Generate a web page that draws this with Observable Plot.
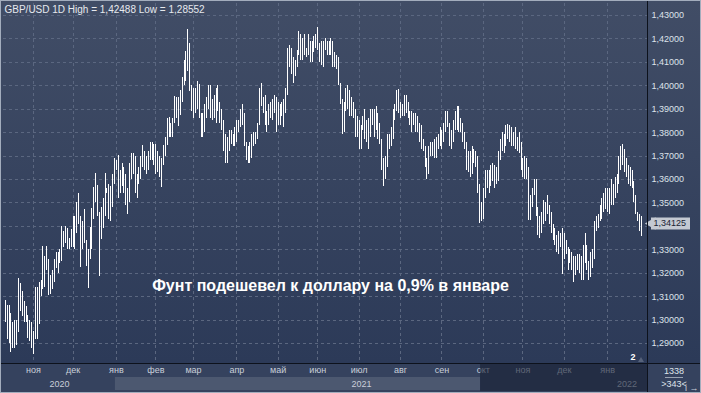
<!DOCTYPE html>
<html><head><meta charset="utf-8">
<script src="https://cdn.jsdelivr.net/npm/d3@7"></script>
<script src="https://cdn.jsdelivr.net/npm/@observablehq/plot@0.6"></script>
<style>html,body{margin:0;padding:0;background:#2e3b57;overflow:hidden} svg{display:block}</style>
</head><body><div id="chart"></div>
<script>
// Daily GBP/USD bars, 12 Oct 2020 .. 27 Jan 2022 (index = trading day)
const high = [
// Oct 2020
1.3083,1.3063,1.3063,1.3030,1.2990,1.3000,1.3000,1.3177,1.3155,1.3120,1.3080,1.3060,1.3020,1.3000,1.2990,
// Nov 2020
1.2950,1.3140,1.3140,1.3160,1.3170,1.3314,1.3270,1.3312,1.3260,1.3190,1.3210,1.3260,1.3290,1.3290,1.3300,1.3398,1.3380,1.3400,1.3390,1.3350,1.3385,
// Dec 2020
1.3440,1.3440,1.3500,1.3540,1.3440,1.3420,1.3470,1.3340,1.3300,1.3395,1.3475,1.3565,1.3625,1.3575,1.3460,1.3480,1.3520,1.3625,1.3560,1.3580,1.3570,1.3620,1.3690,
// Jan 2021
1.3680,1.3703,1.3640,1.3670,1.3650,1.3620,1.3560,1.3670,1.3710,1.3710,1.3700,1.3620,1.3650,1.3700,1.3745,1.3720,1.3700,1.3720,1.3760,1.3760,1.3750,
// Feb 2021
1.3750,1.3720,1.3700,1.3690,1.3745,1.3780,1.3860,1.3865,1.3840,1.3860,1.3953,1.3950,1.3950,1.3980,1.4035,1.4110,1.4145,1.4241,1.4180,1.4000,
// Mar 2021
1.3990,1.3990,1.4020,1.4005,1.3880,1.3880,1.3920,1.3950,1.4000,1.4000,1.3940,1.3960,1.3990,1.4000,1.3930,1.3900,1.3850,1.3790,1.3780,1.3810,1.3810,1.3790,1.3820,
// Apr 2021
1.3850,1.3850,1.3900,1.3920,1.3880,1.3760,1.3740,1.3760,1.3790,1.3800,1.3800,1.3840,1.3990,1.4009,1.3950,1.3960,1.3890,1.3920,1.3930,1.3940,1.3960,1.3950,
// May 2021
1.3930,1.3920,1.3930,1.3940,1.3990,1.4160,1.4170,1.4160,1.4120,1.4110,1.4150,1.4230,1.4220,1.4200,1.4220,1.4160,1.4220,1.4190,1.4190,1.4210,1.4220,
// Jun 2021
1.4249,1.4180,1.4190,1.4190,1.4200,1.4190,1.4190,1.4200,1.4190,1.4140,1.4130,1.4120,1.4010,1.3940,1.3930,1.3990,1.4000,1.3980,1.3950,1.3930,1.3900,1.3870,
// Jul 2021
1.3850,1.3830,1.3870,1.3900,1.3850,1.3860,1.3900,1.3900,1.3900,1.3910,1.3880,1.3840,1.3770,1.3690,1.3700,1.3790,1.3790,1.3820,1.3900,1.3920,1.3980,1.3983,
// Aug 2021
1.3930,1.3920,1.3960,1.3960,1.3930,1.3890,1.3890,1.3880,1.3880,1.3870,1.3840,1.3830,1.3770,1.3740,1.3690,1.3740,1.3760,1.3760,1.3770,1.3780,1.3790,1.3820,
// Sep 2021
1.3810,1.3840,1.3890,1.3890,1.3840,1.3810,1.3850,1.3890,1.3910,1.3910,1.3860,1.3840,1.3800,1.3760,1.3720,1.3720,1.3740,1.3730,1.3720,1.3700,1.3580,1.3500,
// Oct 2021
1.3560,1.3640,1.3640,1.3640,1.3660,1.3670,1.3660,1.3650,1.3720,1.3770,1.3800,1.3790,1.3830,1.3834,1.3830,1.3820,1.3800,1.3820,1.3780,1.3800,1.3760,
// Nov 2021
1.3690,1.3700,1.3690,1.3650,1.3530,1.3560,1.3600,1.3600,1.3480,1.3440,1.3460,1.3510,1.3500,1.3530,1.3490,1.3460,1.3410,1.3390,1.3360,1.3380,1.3370,1.3390,
// Dec 2021
1.3370,1.3340,1.3310,1.3300,1.3290,1.3270,1.3270,1.3280,1.3280,1.3270,1.3320,1.3370,1.3320,1.3250,1.3290,1.3300,1.3420,1.3440,1.3450,1.3490,1.3520,1.3540,1.3560,
// Jan 2022
1.3560,1.3560,1.3600,1.3580,1.3610,1.3620,1.3700,1.3740,1.3749,1.3730,1.3690,1.3660,1.3650,1.3640,1.3590,1.3530,1.3460,1.3450,1.3440
];
const low = [
// Oct 2020
1.2990,1.2918,1.2900,1.2863,1.2880,1.2880,1.2890,1.2946,1.3036,1.3015,1.2990,1.2990,1.2920,1.2910,1.2880,
// Nov 2020
1.2855,1.2915,1.2915,1.2980,1.3100,1.3130,1.3140,1.3210,1.3106,1.3110,1.3130,1.3160,1.3220,1.3200,1.3240,1.3250,1.3310,1.3325,1.3300,1.3300,1.3310,
// Dec 2020
1.3310,1.3300,1.3370,1.3410,1.3225,1.3300,1.3325,1.3230,1.3135,1.3260,1.3300,1.3430,1.3500,1.3440,1.3188,1.3345,1.3390,1.3440,1.3540,1.3430,1.3420,1.3480,1.3580,
// Jan 2021
1.3640,1.3518,1.3540,1.3570,1.3540,1.3490,1.3450,1.3500,1.3600,1.3620,1.3540,1.3520,1.3580,1.3600,1.3650,1.3640,1.3620,1.3640,1.3680,1.3680,1.3660,
// Feb 2021
1.3620,1.3630,1.3610,1.3566,1.3660,1.3700,1.3745,1.3780,1.3780,1.3780,1.3840,1.3860,1.3825,1.3875,1.3930,1.4000,1.4020,1.4060,1.3975,1.3890,
// Mar 2021
1.3860,1.3880,1.3900,1.3860,1.3780,1.3780,1.3800,1.3860,1.3900,1.3860,1.3850,1.3860,1.3840,1.3890,1.3840,1.3810,1.3720,1.3670,1.3670,1.3720,1.3750,1.3740,1.3740,
// Apr 2021
1.3760,1.3800,1.3820,1.3830,1.3740,1.3680,1.3670,1.3670,1.3690,1.3740,1.3750,1.3770,1.3830,1.3910,1.3880,1.3830,1.3800,1.3830,1.3860,1.3850,1.3880,1.3800,
// May 2021
1.3830,1.3830,1.3870,1.3820,1.3880,1.3960,1.4080,1.4050,1.4010,1.4040,1.4080,1.4130,1.4110,1.4110,1.4130,1.4120,1.4130,1.4100,1.4100,1.4140,1.4160,
// Jun 2021
1.4150,1.4100,1.4085,1.4080,1.4150,1.4130,1.4130,1.4130,1.4080,1.4080,1.4070,1.4000,1.3920,1.3790,1.3800,1.3890,1.3900,1.3870,1.3870,1.3860,1.3780,1.3780,
// Jul 2021
1.3730,1.3730,1.3810,1.3770,1.3760,1.3730,1.3780,1.3830,1.3780,1.3810,1.3770,1.3750,1.3640,1.3572,1.3600,1.3650,1.3730,1.3740,1.3770,1.3850,1.3890,1.3880,
// Aug 2021
1.3860,1.3870,1.3870,1.3880,1.3860,1.3830,1.3800,1.3830,1.3800,1.3800,1.3760,1.3730,1.3720,1.3650,1.3602,1.3620,1.3700,1.3700,1.3690,1.3690,1.3730,1.3740,
// Sep 2021
1.3730,1.3760,1.3800,1.3820,1.3740,1.3730,1.3760,1.3810,1.3810,1.3800,1.3800,1.3760,1.3730,1.3640,1.3630,1.3610,1.3620,1.3670,1.3650,1.3540,1.3412,1.3420,
// Oct 2021
1.3430,1.3520,1.3560,1.3540,1.3570,1.3590,1.3560,1.3580,1.3590,1.3680,1.3720,1.3710,1.3740,1.3770,1.3760,1.3740,1.3740,1.3730,1.3720,1.3710,1.3640,
// Nov 2021
1.3610,1.3600,1.3600,1.3425,1.3425,1.3480,1.3530,1.3440,1.3360,1.3350,1.3370,1.3410,1.3420,1.3450,1.3410,1.3370,1.3340,1.3320,1.3290,1.3280,1.3310,1.3195,
// Dec 2021
1.3260,1.3280,1.3210,1.3240,1.3210,1.3161,1.3190,1.3210,1.3200,1.3170,1.3170,1.3240,1.3210,1.3170,1.3180,1.3220,1.3260,1.3380,1.3390,1.3420,1.3430,1.3460,1.3470,
// Jan 2022
1.3460,1.3450,1.3490,1.3490,1.3520,1.3540,1.3580,1.3640,1.3660,1.3630,1.3610,1.3580,1.3570,1.3560,1.3500,1.3450,1.3420,1.3380,1.3358
];
const priceTicks = [1.29,1.30,1.31,1.32,1.33,1.34,1.35,1.36,1.37,1.38,1.39,1.40,1.41,1.42,1.43];
const monthTicks = [15,36,59,80,100,123,145,166,188,210,232,254,275,297,320];
const monthLabels = ["ноя","дек","янв","фев","мар","апр","май","июн","июл","авг","сен","окт","ноя","дек","янв"];
const yearLabels = ["2020","2021","2022"];
const yearStarts = [null, 59, 320];
const navRange = [59, 253];
const titleText = "GBP/USD 1D High = 1,42488 Low = 1,28552";
const noteText = "Фунт подешевел к доллару на 0,9% в январе";
const lastPrice = 1.34125;
const statTop = "1338", statBottom = ">343<";
const pageMark = "2";

const bars = high.map((h, i) => ({i, high: h, low: low[i]}));
const fmt = d => d.toFixed(5).replace(".", ",");
const W = 701, H = 393, mL = 3, mR = 54, mT = 3, mB = 30;
const xDomain = [-0.96, 341.2];
const yDomain = [1.28147, 1.43512];
const pxPerBar = (W - mL - mR) / (xDomain[1] - xDomain[0]);
const font = "'Liberation Sans', Arial, sans-serif";
// labels hidden under the price tag
const labelTicks = priceTicks.filter(p => Math.abs(p - lastPrice) > 0.004);

const chart = Plot.plot({
  width: W, height: H,
  marginLeft: mL, marginRight: mR, marginTop: mT, marginBottom: mB,
  x: {domain: xDomain, axis: null},
  y: {domain: yDomain, axis: null},
  style: {background: "transparent", fontFamily: font, overflow: "visible"},
  marks: [
    Plot.ruleY(priceTicks, {stroke: "#5b6780", strokeDasharray: "3,3", shapeRendering: "crispEdges"}),
    Plot.ruleX(monthTicks, {stroke: "#5b6780", strokeDasharray: "3,3", shapeRendering: "crispEdges"}),
    Plot.ruleX(bars, {x: "i", y1: "low", y2: "high", stroke: "#ffffff", strokeWidth: 1, shapeRendering: "crispEdges"}),
    Plot.axisY(labelTicks, {anchor: "right", tickSize: 0, tickPadding: 4, tickFormat: fmt, fill: "#dde2ea", fontSize: 9, textAnchor: "start"}),
    Plot.axisX(monthTicks, {anchor: "bottom", tickSize: 0, tickPadding: 3, tickFormat: d => monthLabels[monthTicks.indexOf(d)], fill: "#c9cfd9", fontSize: 9}),
    Plot.text([titleText], {frameAnchor: "top-left", dx: 1, dy: 2, lineAnchor: "top", textAnchor: "start", fill: "#e6e9ee", fontSize: 10}),
    Plot.text([noteText], {frameAnchor: "middle", dx: 5, dy: 102, fill: "#ffffff", fontSize: 16, fontWeight: "bold"}),
    // last-price tag on the right axis
    Plot.ruleY([lastPrice], {x1: xDomain[1] + 4 / pxPerBar, x2: xDomain[1] + 43 / pxPerBar, stroke: "#c4c9d2", strokeWidth: 12}),
    Plot.dot([lastPrice], {x: xDomain[1], y: d => d, dx: 4.5, symbol: "triangle", r: 4.6, rotate: -90, fill: "#c4c9d2", stroke: "none"}),
    Plot.text([lastPrice], {x: xDomain[1], y: d => d, dx: 6, text: fmt, textAnchor: "start", fill: "#1b2333", fontSize: 9})
  ]
});

const svg = d3.select(chart);
const xs = chart.scale("x"), ys = chart.scale("y");
const X = v => xs.apply(v), Y = v => ys.apply(v);
const frameR = W - mR, frameB = H - mB;

// background gradient
const defs = svg.insert("defs", ":first-child");
const g = defs.append("linearGradient").attr("id", "bg").attr("x1", 0).attr("y1", 0).attr("x2", 0).attr("y2", 1);
g.append("stop").attr("offset", "0%").attr("stop-color", "#414d66");
g.append("stop").attr("offset", "100%").attr("stop-color", "#2c3a58");
const bgLayer = svg.insert("g", "defs + *");
bgLayer.append("rect").attr("x", 0).attr("y", 0).attr("width", W).attr("height", frameB).attr("fill", "url(#bg)");
// time axis panel
bgLayer.append("rect").attr("x", 0).attr("y", frameB).attr("width", W).attr("height", H - frameB).attr("fill", "#35425e");
bgLayer.append("rect").attr("x", X(navRange[0] - 0.5)).attr("y", frameB + 14).attr("width", X(navRange[1] - 0.5) - X(navRange[0] - 0.5)).attr("height", 13).attr("fill", "#4c5870");

// years
const yearBounds = [xDomain[0], yearStarts[1], yearStarts[2], xDomain[1]];
yearLabels.forEach((t, k) => {
  const cx = (X(yearBounds[k]) + X(yearBounds[k + 1])) / 2;
  svg.append("text").attr("x", cx).attr("y", frameB + 24).attr("text-anchor", "middle")
    .attr("font-family", font).attr("font-size", 9).attr("fill", "#c9cfd9").text(t);
});
// dim overlay over the later part of the time axis
svg.append("rect").attr("x", X(navRange[1] - 0.5)).attr("y", frameB + 1).attr("width", frameR - X(navRange[1] - 0.5)).attr("height", H - frameB - 3)
  .attr("fill", "rgba(24,32,52,0.6)");

// frame lines
svg.append("line").attr("x1", frameR + 0.5).attr("x2", frameR + 0.5).attr("y1", 0).attr("y2", H).attr("stroke", "#0d121c");
svg.append("line").attr("x1", 0).attr("x2", W).attr("y1", frameB + 0.5).attr("y2", frameB + 0.5).attr("stroke", "#0d121c");

// stats box
const bx = (frameR + W) / 2;
svg.append("text").attr("x", bx).attr("y", frameB + 11).attr("text-anchor", "middle").attr("font-family", font).attr("font-size", 9).attr("fill", "#dfe3ea").text(statTop);
svg.append("line").attr("x1", bx - 9).attr("x2", bx + 9).attr("y1", frameB + 14.5).attr("y2", frameB + 14.5).attr("stroke", "#9aa3b2");
svg.append("text").attr("x", bx).attr("y", frameB + 24).attr("text-anchor", "middle").attr("font-family", font).attr("font-size", 9).attr("fill", "#dfe3ea").text(statBottom);

// page marker
svg.append("text").attr("x", X(xDomain[1]) - 14).attr("y", frameB - 3).attr("text-anchor", "middle").attr("font-family", font).attr("font-size", 9).attr("font-weight", "bold").attr("fill", "#ffffff").text(pageMark);
svg.append("path").attr("d", `M${frameR - 9},${frameB - 1} L${frameR - 6},${frameB - 6} L${frameR - 3},${frameB - 1} Z`).attr("fill", "#56627a");

// outer border
svg.append("rect").attr("x", 0.5).attr("y", 0.5).attr("width", W - 1).attr("height", H - 1).attr("fill", "none").attr("stroke", "#a3adbd");

document.getElementById("chart").appendChild(chart);
</script></body></html>
